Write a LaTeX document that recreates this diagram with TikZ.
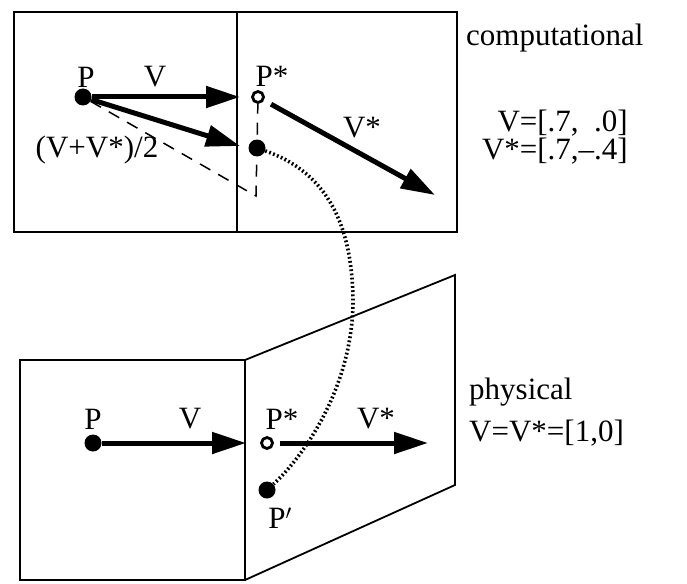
\documentclass[tikz,border=0pt]{standalone}
\usepackage{fontspec}
\setmainfont{Liberation Serif}
\usetikzlibrary{arrows.meta}

\begin{document}
\begin{tikzpicture}[x=1pt, y=-1pt, >={Triangle[length=34pt,width=21pt]},
  frame/.style={line width=1.8pt},
  vec/.style={->, line width=5pt},
  dot/.style={circle, fill, inner sep=0pt, minimum size=17pt},
  ring/.style={circle, draw, line width=2.8pt, fill=white, inner sep=0pt, minimum size=11pt},
  guide/.style={line width=1.5pt, dash pattern=on 12pt off 9pt},
  trail/.style={line width=3.6pt, dash pattern=on 1.8pt off 2.4pt},
  lbl/.style={font=\fontsize{31}{34}\selectfont, inner sep=0pt}]
\useasboundingbox (0,0) rectangle (687,583);

% computational panel
\draw[frame] (14,12) rectangle (457,232);
\draw[frame] (237,12) -- (237,232);
\node[dot] (tP) at (83,97) {};
\node[ring] (tPs) at (258,97) {};
\node[dot] (tM) at (257,148) {};
\coordinate (tVend) at (240,97);
\coordinate (tMend) at (240,146);
\coordinate (tC) at (256,196);
\coordinate (tSend) at (435,195);
\draw[guide] (tP) -- (tC) -- (tPs);
\draw[vec] (tP) -- (tVend);
\draw[vec] (tP) -- (tMend);
\draw[vec, shorten <=8pt] (tPs) -- (tSend);
\node[lbl] (tlP) at (86,77) {P};
\node[lbl] (tlV) at (155,77) {V};
\node[lbl] (tlPs) at (272,76) {P*};
\node[lbl] (tlS) at (362,128) {V*};
\node[lbl] (tlM) at (97,150) {(V+V*)/2};

% physical panel
\draw[frame] (20,360) rectangle (245,580);
\draw[frame] (245,360) -- (455,275) -- (455,485) -- (245,580);
\node[dot] (bP) at (93,443) {};
\node[ring] (bPs) at (267,443) {};
\node[dot] (bPp) at (267,490) {};
\coordinate (bVend) at (246,443);
\coordinate (bSend) at (428,443);
\draw[vec] (bP) -- (bVend);
\draw[vec, shorten <=6pt] (bPs) -- (bSend);
\node[lbl] (blP) at (93,419) {P};
\node[lbl] (blV) at (190,419) {V};
\node[lbl] (blPs) at (282,419) {P*};
\node[lbl] (blS) at (376,419) {V*};
\node[lbl] (blPp) at (280,518) {P$'$};

% path of the point
\draw[trail] (tM) .. controls (320,170) and (352,215) .. (353,300)
  .. controls (353,390) and (300,460) .. (bPp);

% captions
\node[lbl, anchor=west] (cap1) at (466,38) {computational};
\node[lbl, anchor=east] (eq1) at (628,123) {V=[.7,\ \ .0]};
\node[lbl, anchor=east] (eq2) at (628,151) {V*=[.7,--.4]};
\node[lbl, anchor=west] (cap2) at (469,392) {physical};
\node[lbl, anchor=west] (eq3) at (469,433) {V=V*=[1,0]};
\end{tikzpicture}
\end{document}
